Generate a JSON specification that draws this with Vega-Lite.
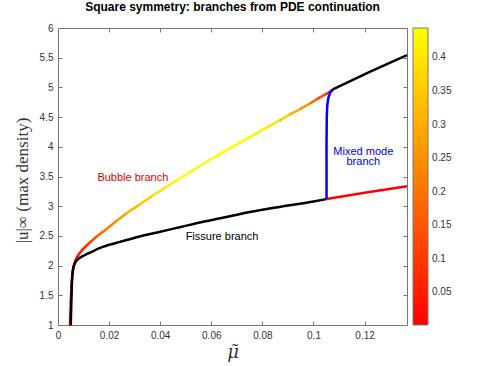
{
  "$schema": "https://vega.github.io/schema/vega-lite/v6.json",
  "width": 349,
  "height": 297,
  "autosize": {"type": "none"},
  "padding": {"left": 58, "top": 28, "right": 81, "bottom": 41},
  "background": "white",
  "title": {"text": "Square symmetry: branches from PDE continuation", "font": "Liberation Sans", "fontSize": 12, "fontWeight": "bold", "color": "#000", "anchor": "middle", "offset": 9},
  "config": {
    "view": {"stroke": null},
    "axis": {"grid": false, "domainColor": "#777", "tickColor": "#777", "tickSize": -4, "labelPadding": 9, "labelFont": "Liberation Sans", "labelFontSize": 10, "labelColor": "#333", "labelFlush": false, "labelOverlap": false}
  },
  "datasets": {
    "bubble": [
      {"mu": 0.0047, "u": 1.00, "mu2": 0.0050, "u2": 1.40, "c": 0.0},
      {"mu": 0.0050, "u": 1.40, "mu2": 0.0053, "u2": 1.68, "c": 0.003},
      {"mu": 0.0053, "u": 1.68, "mu2": 0.0057, "u2": 1.88, "c": 0.008},
      {"mu": 0.0057, "u": 1.88, "mu2": 0.0062, "u2": 2.00, "c": 0.012},
      {"mu": 0.0062, "u": 2.00, "mu2": 0.0068, "u2": 2.08, "c": 0.016},
      {"mu": 0.0068, "u": 2.08, "mu2": 0.0075, "u2": 2.145, "c": 0.02},
      {"mu": 0.0075, "u": 2.145, "mu2": 0.0084, "u2": 2.205, "c": 0.03},
      {"mu": 0.0084, "u": 2.205, "mu2": 0.0095, "u2": 2.265, "c": 0.045},
      {"mu": 0.0095, "u": 2.265, "mu2": 0.0110, "u2": 2.33, "c": 0.065},
      {"mu": 0.0110, "u": 2.33, "mu2": 0.0130, "u2": 2.41, "c": 0.095},
      {"mu": 0.0130, "u": 2.41, "mu2": 0.0152, "u2": 2.49, "c": 0.13},
      {"mu": 0.0152, "u": 2.49, "mu2": 0.0171, "u2": 2.555, "c": 0.165},
      {"mu": 0.0171, "u": 2.555, "mu2": 0.0191, "u2": 2.62, "c": 0.195},
      {"mu": 0.0191, "u": 2.62, "mu2": 0.0230, "u2": 2.755, "c": 0.23},
      {"mu": 0.0230, "u": 2.755, "mu2": 0.0270, "u2": 2.885, "c": 0.27},
      {"mu": 0.0270, "u": 2.885, "mu2": 0.0320, "u2": 3.03, "c": 0.31},
      {"mu": 0.0320, "u": 3.03, "mu2": 0.0370, "u2": 3.175, "c": 0.35},
      {"mu": 0.0370, "u": 3.175, "mu2": 0.0420, "u2": 3.315, "c": 0.385},
      {"mu": 0.0420, "u": 3.315, "mu2": 0.0470, "u2": 3.45, "c": 0.415},
      {"mu": 0.0470, "u": 3.45, "mu2": 0.0530, "u2": 3.61, "c": 0.435},
      {"mu": 0.0530, "u": 3.61, "mu2": 0.0590, "u2": 3.77, "c": 0.44},
      {"mu": 0.0590, "u": 3.77, "mu2": 0.0650, "u2": 3.92, "c": 0.44},
      {"mu": 0.0650, "u": 3.92, "mu2": 0.0713, "u2": 4.07, "c": 0.44},
      {"mu": 0.0713, "u": 4.07, "mu2": 0.0770, "u2": 4.21, "c": 0.435},
      {"mu": 0.0770, "u": 4.21, "mu2": 0.0820, "u2": 4.33, "c": 0.42},
      {"mu": 0.0820, "u": 4.33, "mu2": 0.0870, "u2": 4.45, "c": 0.395},
      {"mu": 0.0870, "u": 4.45, "mu2": 0.0910, "u2": 4.55, "c": 0.36},
      {"mu": 0.0910, "u": 4.55, "mu2": 0.0950, "u2": 4.64, "c": 0.315},
      {"mu": 0.0950, "u": 4.64, "mu2": 0.0990, "u2": 4.74, "c": 0.255},
      {"mu": 0.0990, "u": 4.74, "mu2": 0.1020, "u2": 4.82, "c": 0.19},
      {"mu": 0.1020, "u": 4.82, "mu2": 0.1050, "u2": 4.89, "c": 0.13},
      {"mu": 0.1050, "u": 4.89, "mu2": 0.1078, "u2": 4.97, "c": 0.065}
    ],
    "fissure": [
      {"mu": 0.0050, "u": 1.0}, {"mu": 0.0052, "u": 1.35}, {"mu": 0.0054, "u": 1.65},
      {"mu": 0.0057, "u": 1.88}, {"mu": 0.0061, "u": 1.98}, {"mu": 0.0066, "u": 2.04},
      {"mu": 0.0073, "u": 2.085}, {"mu": 0.0082, "u": 2.12}, {"mu": 0.0093, "u": 2.15},
      {"mu": 0.0110, "u": 2.19}, {"mu": 0.0132, "u": 2.23}, {"mu": 0.0155, "u": 2.28},
      {"mu": 0.0178, "u": 2.32}, {"mu": 0.0243, "u": 2.40}, {"mu": 0.032, "u": 2.49},
      {"mu": 0.040, "u": 2.57}, {"mu": 0.048, "u": 2.65}, {"mu": 0.056, "u": 2.73},
      {"mu": 0.064, "u": 2.80}, {"mu": 0.0713, "u": 2.87}, {"mu": 0.080, "u": 2.94},
      {"mu": 0.090, "u": 3.01}, {"mu": 0.100, "u": 3.08}, {"mu": 0.1051, "u": 3.12}
    ],
    "fissureRed": [
      {"mu": 0.1051, "u": 3.12}, {"mu": 0.120, "u": 3.225}, {"mu": 0.1366, "u": 3.335}
    ],
    "bubbleTail": [
      {"mu": 0.1078, "u": 4.97}, {"mu": 0.122, "u": 5.26}, {"mu": 0.1366, "u": 5.545}
    ],
    "mixed": [
      {"mu": 0.1051, "u": 3.12}, {"mu": 0.1051, "u": 4.0}, {"mu": 0.1052, "u": 4.5},
      {"mu": 0.1054, "u": 4.7}, {"mu": 0.1058, "u": 4.82}, {"mu": 0.1065, "u": 4.91},
      {"mu": 0.1072, "u": 4.95}, {"mu": 0.1078, "u": 4.97}
    ],
    "labels": [
      {"mu": 0.0293, "u": 3.475, "t": "Bubble branch", "col": "#e00000"},
      {"mu": 0.0642, "u": 2.48, "t": "Fissure branch", "col": "#000000"},
      {"mu": 0.1195, "u": 3.915, "t": "Mixed mode\nbranch", "col": "#0000ff"}
    ]
  },
  "layer": [
    {
      "data": {"name": "bubble"},
      "mark": {"type": "rule", "strokeWidth": 2.5, "strokeCap": "round"},
      "encoding": {
        "x": {"field": "mu", "type": "quantitative", "scale": {"domain": [0, 0.1366], "nice": false, "zero": false},
              "axis": {"orient": "bottom", "values": [0, 0.02, 0.04, 0.06, 0.08, 0.1, 0.12], "format": "~g", "title": "μ̃", "titleFont": "DejaVu Serif", "titleFontStyle": "italic", "titleFontWeight": "normal", "titleFontSize": 18, "titleColor": "#333", "titleBaseline": "middle", "titleY": 27}},
        "y": {"field": "u", "type": "quantitative", "scale": {"domain": [1, 6], "nice": false, "zero": false},
              "axis": {"orient": "left", "values": [1, 1.5, 2, 2.5, 3, 3.5, 4, 4.5, 5, 5.5, 6], "format": "~g", "title": "|u|∞  (max density)", "titleFont": "Liberation Serif", "titleFontWeight": "normal", "titleFontSize": 17, "titleColor": "#333", "titleAngle": 270, "titleBaseline": "middle", "titleAlign": "center", "titleX": -36, "titleY": 152}},
        "x2": {"field": "mu2"},
        "y2": {"field": "u2"},
        "color": {"field": "c", "type": "quantitative",
                  "scale": {"domain": [0.001, 0.444], "range": ["#ff0000", "#ffff00"], "interpolate": "rgb", "clamp": true},
                  "legend": {"orient": "none", "legendX": 355, "legendY": 0, "direction": "vertical", "title": null, "padding": 0,
                             "gradientLength": 297, "gradientThickness": 15, "gradientStrokeColor": "#777", "gradientStrokeWidth": 1,
                             "values": [0.05, 0.1, 0.15, 0.2, 0.25, 0.3, 0.35, 0.4], "labelExpr": "format(datum.value, '.2~f')",
                             "labelFont": "Liberation Sans", "labelFontSize": 10, "labelColor": "#333", "labelOffset": 4, "labelOverlap": false}}
      }
    },
    {
      "data": {"name": "fissure"},
      "mark": {"type": "line", "color": "#000000", "strokeWidth": 2.5, "interpolate": "monotone"},
      "encoding": {
        "x": {"field": "mu", "type": "quantitative", "axis": null},
        "y": {"field": "u", "type": "quantitative", "axis": null},
        "order": {"value": null}
      }
    },
    {
      "data": {"name": "fissureRed"},
      "mark": {"type": "line", "color": "#ff0000", "strokeWidth": 2.5},
      "encoding": {
        "x": {"field": "mu", "type": "quantitative", "axis": null},
        "y": {"field": "u", "type": "quantitative", "axis": null},
        "order": {"value": null}
      }
    },
    {
      "data": {"name": "bubbleTail"},
      "mark": {"type": "line", "color": "#000000", "strokeWidth": 2.5},
      "encoding": {
        "x": {"field": "mu", "type": "quantitative", "axis": null},
        "y": {"field": "u", "type": "quantitative", "axis": null},
        "order": {"value": null}
      }
    },
    {
      "data": {"name": "mixed"},
      "mark": {"type": "line", "color": "#0000ff", "strokeWidth": 2.5},
      "encoding": {
        "x": {"field": "mu", "type": "quantitative", "axis": null},
        "y": {"field": "u", "type": "quantitative", "axis": null},
        "order": {"value": null}
      }
    },
    {
      "data": {"name": "labels"},
      "mark": {"type": "text", "font": "Liberation Sans", "fontSize": 11, "align": "center", "baseline": "middle", "lineBreak": "\n", "lineHeight": 10},
      "encoding": {
        "x": {"field": "mu", "type": "quantitative", "axis": {"orient": "top", "values": [0.02, 0.04, 0.06, 0.08, 0.1, 0.12], "labels": false, "title": null}},
        "y": {"field": "u", "type": "quantitative", "axis": {"orient": "right", "values": [1.5, 2, 2.5, 3, 3.5, 4, 4.5, 5, 5.5], "labels": false, "title": null}},
        "text": {"field": "t", "type": "nominal"},
        "fill": {"field": "col", "type": "nominal", "scale": null}
      }
    }
  ],
  "resolve": {"axis": {"x": "independent", "y": "independent"}}
}
